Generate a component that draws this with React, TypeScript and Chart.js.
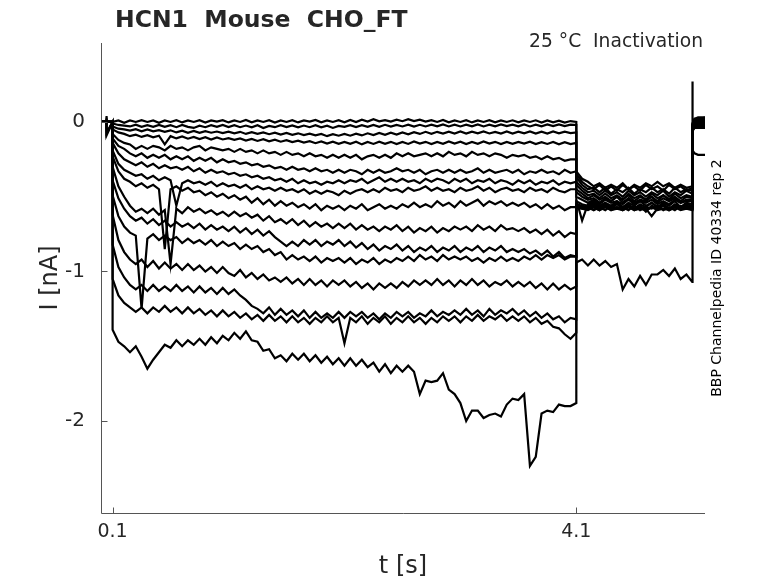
import React, { useEffect, useRef } from "react";
import { Chart, registerables } from "chart.js";

Chart.register(...registerables);

const TITLE = "HCN1  Mouse  CHO_FT";
const CONDITION = "25 °C  Inactivation";
const SIDE_NOTE = "BBP Channelpedia ID 40334 rep 2";
const X_LABEL = "t [s]";
const Y_LABEL = "I [nA]";
const X_TICKS = [0.1, 4.1];
const Y_TICKS = [-2, -1, 0];

const PRE_T = [0, 0.045, 0.046, 0.05, 0.1];
const PULSE_T = [
  0.1, 0.15, 0.2, 0.25, 0.3, 0.35, 0.4, 0.45, 0.5, 0.55,
  0.6, 0.65, 0.7, 0.75, 0.8, 0.85, 0.9, 0.95, 1, 1.05,
  1.1, 1.15, 1.2, 1.25, 1.3, 1.35, 1.4, 1.45, 1.5, 1.55,
  1.6, 1.65, 1.7, 1.75, 1.8, 1.85, 1.9, 1.95, 2, 2.05,
  2.1, 2.15, 2.2, 2.25, 2.3, 2.35, 2.4, 2.45, 2.5, 2.55,
  2.6, 2.65, 2.7, 2.75, 2.8, 2.85, 2.9, 2.95, 3, 3.05,
  3.1, 3.15, 3.2, 3.25, 3.3, 3.35, 3.4, 3.45, 3.5, 3.55,
  3.6, 3.65, 3.7, 3.75, 3.8, 3.85, 3.9, 3.95, 4, 4.05,
  4.1,
];
const TAIL_T = [
  4.1, 4.15, 4.2, 4.25, 4.3, 4.35, 4.4, 4.45, 4.5, 4.55,
  4.6, 4.65, 4.7, 4.75, 4.8, 4.85, 4.9, 4.95, 5, 5.05, 5.1,
];
const POST_T = [5.1, 5.105, 5.12, 5.15, 5.21];

const PRE_I = [
  [0, 0, 0.04, -0.09, 0],
  [0, 0, 0.03, -0.08, 0],
  [0, 0, 0.02, -0.07, 0],
  [0, 0, 0, 0, 0],
  [0, 0, 0, 0, 0],
  [0, 0, 0, 0, 0],
  [0, 0, 0, 0, 0],
  [0, 0, 0, 0, 0],
  [0, 0, 0, 0, 0],
  [0, 0, 0, 0, 0],
  [0, 0, 0, 0, 0],
  [0, 0, 0, 0, 0],
  [0, 0, 0, 0, 0],
  [0, 0, 0, 0, 0],
  [0, 0, 0, 0, 0],
  [0, 0, 0, 0, 0],
];

const PULSE_I = [
  [
    0.0, 0.01, -0.005, 0.01, 0.0, 0.012, 0.0, 0.01, -0.005, 0.01,
    0.0, 0.012, -0.003, 0.01, 0.0, 0.012, -0.004, 0.01, 0.002, 0.012,
    -0.003, 0.01, 0.0, 0.013, -0.002, 0.01, 0.0, 0.012, -0.004, 0.01,
    0.0, 0.012, -0.003, 0.01, 0.002, 0.013, -0.002, 0.01, 0.0, 0.012,
    -0.002, 0.013, 0.0, 0.015, 0.003, 0.018, 0.004, 0.012, 0.002, 0.015,
    0.005, 0.018, 0.006, 0.015, 0.002, 0.012, 0.0, 0.013, -0.002, 0.01,
    0.0, 0.012, -0.003, 0.01, 0.0, 0.012, -0.002, 0.01, 0.0, 0.011,
    -0.003, 0.01, 0.0, 0.011, -0.004, 0.01, -0.002, 0.008, -0.004, 0.006,
    0.0,
  ],
  [
    -0.01, -0.02, -0.025, -0.03, -0.018, -0.033, -0.022, -0.032, -0.02, -0.033,
    -0.022, -0.035, -0.02, -0.033, -0.04, -0.025, -0.035, -0.022, -0.033, -0.02,
    -0.034, -0.022, -0.035, -0.024, -0.036, -0.022, -0.04, -0.026, -0.035, -0.022,
    -0.034, -0.023, -0.036, -0.024, -0.035, -0.022, -0.036, -0.025, -0.04, -0.026,
    -0.033, -0.021, -0.034, -0.022, -0.033, -0.02, -0.032, -0.019, -0.031, -0.02,
    -0.03, -0.018, -0.031, -0.019, -0.03, -0.018, -0.029, -0.017, -0.03, -0.018,
    -0.03, -0.018, -0.029, -0.017, -0.03, -0.018, -0.029, -0.017, -0.028, -0.018,
    -0.029, -0.017, -0.03, -0.018, -0.029, -0.017, -0.028, -0.016, -0.027, -0.018,
    -0.02,
  ],
  [
    -0.03, -0.045, -0.05, -0.058, -0.048, -0.062, -0.05, -0.063, -0.055, -0.066,
    -0.056, -0.07, -0.058, -0.072, -0.06, -0.073, -0.062, -0.072, -0.064, -0.075,
    -0.065, -0.076, -0.066, -0.08, -0.068, -0.079, -0.07, -0.082, -0.072, -0.085,
    -0.074, -0.086, -0.076, -0.088, -0.078, -0.09, -0.08, -0.095, -0.082, -0.092,
    -0.08, -0.092, -0.078, -0.09, -0.076, -0.088, -0.074, -0.086, -0.072, -0.084,
    -0.07, -0.082, -0.068, -0.08, -0.066, -0.079, -0.066, -0.078, -0.065, -0.077,
    -0.064, -0.078, -0.065, -0.076, -0.064, -0.077, -0.066, -0.078, -0.064, -0.077,
    -0.065, -0.076, -0.064, -0.078, -0.065, -0.077, -0.064, -0.076, -0.065, -0.075,
    -0.07,
  ],
  [
    -0.05, -0.07, -0.08, -0.095, -0.085, -0.1, -0.088, -0.103, -0.092, -0.15,
    -0.095, -0.11, -0.097, -0.112, -0.1, -0.114, -0.102, -0.118, -0.104, -0.117,
    -0.108, -0.12, -0.11, -0.124, -0.113, -0.127, -0.115, -0.13, -0.118, -0.132,
    -0.122, -0.135, -0.125, -0.138, -0.128, -0.142, -0.13, -0.145, -0.132, -0.146,
    -0.133, -0.146, -0.132, -0.15, -0.134, -0.147, -0.132, -0.146, -0.133, -0.148,
    -0.134, -0.147, -0.13, -0.145, -0.133, -0.148, -0.134, -0.146, -0.13, -0.145,
    -0.132, -0.148, -0.134, -0.146, -0.13, -0.145, -0.133, -0.148, -0.134, -0.146,
    -0.133, -0.145, -0.132, -0.148, -0.135, -0.147, -0.134, -0.149, -0.135, -0.148,
    -0.14,
  ],
  [
    -0.08, -0.12, -0.14, -0.15, -0.18, -0.16, -0.18, -0.16, -0.17, -0.19,
    -0.16, -0.18, -0.17, -0.19, -0.17, -0.16, -0.19, -0.17, -0.18, -0.19,
    -0.18, -0.2, -0.18, -0.2, -0.19, -0.21, -0.19, -0.21, -0.2, -0.22,
    -0.2, -0.22, -0.21, -0.23, -0.21, -0.23, -0.22, -0.24, -0.22, -0.24,
    -0.22, -0.24, -0.22, -0.25, -0.23, -0.22, -0.24, -0.22, -0.24, -0.21,
    -0.23, -0.21, -0.23, -0.22, -0.21, -0.23, -0.21, -0.23, -0.2, -0.22,
    -0.21, -0.23, -0.2, -0.22, -0.21, -0.23, -0.21, -0.22, -0.24, -0.22,
    -0.23, -0.22, -0.24, -0.23, -0.25, -0.23, -0.25, -0.24, -0.26, -0.25,
    -0.25,
  ],
  [
    -0.11, -0.16, -0.18, -0.21, -0.23, -0.21, -0.24, -0.22, -0.24, -0.22,
    -0.25, -0.23, -0.25, -0.23, -0.26, -0.24, -0.26, -0.24, -0.27, -0.25,
    -0.27, -0.26, -0.28, -0.27, -0.29, -0.28, -0.3, -0.29, -0.31, -0.3,
    -0.32, -0.3, -0.32, -0.31, -0.33, -0.31, -0.33, -0.32, -0.34, -0.32,
    -0.34, -0.32, -0.33, -0.35, -0.32, -0.34, -0.32, -0.34, -0.33, -0.31,
    -0.33, -0.32, -0.34, -0.32, -0.35, -0.33, -0.32, -0.34, -0.32, -0.34,
    -0.32, -0.34, -0.33, -0.31, -0.34, -0.32, -0.34, -0.33, -0.32, -0.34,
    -0.32, -0.35, -0.33, -0.34, -0.32, -0.34, -0.33, -0.35, -0.32, -0.34,
    -0.33,
  ],
  [
    -0.14, -0.21, -0.25, -0.27, -0.29, -0.27, -0.3, -0.28, -0.31, -0.29,
    -0.31, -0.3, -0.32, -0.3, -0.33, -0.31, -0.34, -0.32, -0.34, -0.33,
    -0.35, -0.34, -0.36, -0.35, -0.37, -0.36, -0.38, -0.37, -0.39, -0.38,
    -0.4, -0.38, -0.41, -0.39, -0.41, -0.4, -0.42, -0.4, -0.41, -0.39,
    -0.41, -0.39, -0.4, -0.38, -0.41, -0.39, -0.37, -0.4, -0.38, -0.4,
    -0.38, -0.4, -0.39, -0.41, -0.38, -0.4, -0.38, -0.39, -0.41, -0.38,
    -0.4, -0.38, -0.41, -0.39, -0.4, -0.38, -0.41, -0.39, -0.4, -0.42,
    -0.39, -0.41, -0.39, -0.42, -0.4, -0.41, -0.39, -0.42, -0.4, -0.41,
    -0.4,
  ],
  [
    -0.19, -0.28, -0.32, -0.34, -0.36, -0.35, -0.38, -0.36, -0.39, -0.37,
    -0.39, -0.56, -0.41, -0.39, -0.41, -0.4, -0.42, -0.4, -0.43, -0.41,
    -0.43, -0.42, -0.44, -0.42, -0.45, -0.43, -0.45, -0.44, -0.46, -0.44,
    -0.46, -0.45, -0.47, -0.45, -0.48, -0.46, -0.48, -0.46, -0.47, -0.49,
    -0.46, -0.48, -0.46, -0.45, -0.47, -0.45, -0.47, -0.44, -0.46, -0.45,
    -0.47, -0.44, -0.46, -0.45, -0.43, -0.46, -0.44, -0.46, -0.45, -0.47,
    -0.44, -0.46, -0.45, -0.43, -0.46, -0.44, -0.47, -0.45, -0.44, -0.46,
    -0.45, -0.47, -0.44, -0.46, -0.45, -0.47, -0.44, -0.46, -0.47, -0.45,
    -0.45,
  ],
  [
    -0.23, -0.33, -0.38, -0.4, -0.43, -0.41, -0.44, -0.42, -0.45, -0.85,
    -0.45, -0.43, -0.46, -0.44, -0.47, -0.46, -0.49, -0.47, -0.5, -0.48,
    -0.51, -0.49, -0.52, -0.5, -0.54, -0.51, -0.55, -0.52, -0.56, -0.53,
    -0.56, -0.54, -0.57, -0.55, -0.58, -0.55, -0.59, -0.56, -0.58, -0.56,
    -0.59, -0.56, -0.58, -0.55, -0.59, -0.57, -0.55, -0.58, -0.56, -0.58,
    -0.55, -0.57, -0.54, -0.57, -0.55, -0.57, -0.53, -0.56, -0.54, -0.57,
    -0.53, -0.56, -0.54, -0.52, -0.56, -0.53, -0.55, -0.53, -0.56, -0.54,
    -0.56, -0.54, -0.57, -0.55, -0.58, -0.55, -0.58, -0.56, -0.59, -0.57,
    -0.57,
  ],
  [
    -0.3, -0.43, -0.5, -0.56, -0.6, -0.58, -0.61, -0.58, -0.62, -0.59,
    -0.95, -0.58, -0.61, -0.57, -0.6, -0.58, -0.61, -0.59, -0.62, -0.6,
    -0.63, -0.6, -0.63, -0.61, -0.64, -0.62, -0.66, -0.63, -0.67, -0.65,
    -0.68, -0.65, -0.69, -0.66, -0.7, -0.67, -0.7, -0.68, -0.71, -0.68,
    -0.71, -0.68, -0.72, -0.69, -0.72, -0.7, -0.73, -0.7, -0.72, -0.69,
    -0.73, -0.7, -0.74, -0.71, -0.73, -0.7, -0.74, -0.71, -0.73, -0.7,
    -0.72, -0.7, -0.73, -0.69, -0.72, -0.7, -0.73, -0.69, -0.72, -0.71,
    -0.73, -0.71, -0.74, -0.72, -0.75, -0.72, -0.76, -0.73, -0.77, -0.74,
    -0.75,
  ],
  [
    -0.39, -0.51, -0.58, -0.63, -0.66, -0.64, -0.68, -0.65, -0.69, -0.66,
    -0.7, -0.67, -0.7, -0.68, -0.71, -0.68, -0.72, -0.69, -0.72, -0.7,
    -0.73, -0.7, -0.74, -0.71, -0.75, -0.72, -0.76, -0.73, -0.77, -0.8,
    -0.83, -0.8, -0.83, -0.79, -0.82, -0.79, -0.83, -0.8, -0.82, -0.79,
    -0.83, -0.8, -0.84, -0.81, -0.85, -0.82, -0.86, -0.83, -0.85, -0.82,
    -0.86, -0.83, -0.87, -0.84, -0.86, -0.83, -0.87, -0.84, -0.86, -0.83,
    -0.87, -0.84, -0.86, -0.83, -0.87, -0.84, -0.86, -0.83, -0.87, -0.85,
    -0.87, -0.85, -0.88, -0.86, -0.89, -0.86, -0.9, -0.87, -0.91, -0.89,
    -0.9,
  ],
  [
    -0.49, -0.63, -0.7, -0.74, -0.76, -1.25, -0.78, -0.75, -0.79, -0.76,
    -0.79, -0.77, -0.81, -0.78, -0.81, -0.79, -0.82, -0.79, -0.83, -0.8,
    -0.83, -0.81, -0.85, -0.82, -0.85, -0.83, -0.87, -0.85, -0.89, -0.87,
    -0.92, -0.89, -0.92, -0.9, -0.93, -0.9, -0.94, -0.91, -0.93, -0.91,
    -0.94, -0.91, -0.95, -0.92, -0.94, -0.91, -0.95, -0.92, -0.94, -0.91,
    -0.93, -0.9, -0.93, -0.89, -0.92, -0.9, -0.93, -0.89, -0.92, -0.9,
    -0.92, -0.9, -0.93, -0.91, -0.94, -0.91, -0.93, -0.9, -0.93, -0.91,
    -0.93, -0.9, -0.92, -0.89, -0.92, -0.89, -0.91, -0.89, -0.92, -0.9,
    -0.9,
  ],
  [
    -0.62, -0.79, -0.87, -0.92, -0.95, -0.92, -0.97, -0.93, -0.98, -0.94,
    -0.98, -0.95, -0.99, -0.95, -0.99, -0.96, -1.0, -0.97, -1.01, -0.97,
    -1.01, -1.03, -0.99, -1.04, -1.01, -1.05, -1.02, -1.06, -1.04, -1.07,
    -1.04, -1.08, -1.05, -1.09, -1.05, -1.09, -1.06, -1.1, -1.06, -1.09,
    -1.06, -1.1, -1.07, -1.11, -1.08, -1.12, -1.08, -1.11, -1.08, -1.11,
    -1.07, -1.1, -1.06, -1.09, -1.06, -1.09, -1.05, -1.09, -1.06, -1.1,
    -1.06, -1.09, -1.05, -1.09, -1.06, -1.1, -1.07, -1.09, -1.06, -1.1,
    -1.07, -1.1, -1.07, -1.11, -1.08, -1.12, -1.08, -1.12, -1.09, -1.12,
    -1.1,
  ],
  [
    -0.82, -0.97, -1.04, -1.09, -1.12, -1.09, -1.13, -1.09, -1.13, -1.1,
    -1.13, -1.09, -1.13, -1.1, -1.14, -1.1, -1.14, -1.11, -1.15, -1.11,
    -1.15, -1.12, -1.16, -1.19, -1.23, -1.25, -1.28, -1.24, -1.29, -1.25,
    -1.29, -1.26, -1.3, -1.26, -1.31, -1.27, -1.31, -1.28, -1.31, -1.27,
    -1.31, -1.27, -1.3, -1.27, -1.31, -1.28, -1.32, -1.28, -1.31, -1.27,
    -1.3, -1.27, -1.31, -1.28, -1.3, -1.26, -1.3, -1.27, -1.29, -1.26,
    -1.29, -1.25, -1.29, -1.26, -1.3, -1.25, -1.29, -1.26, -1.28, -1.25,
    -1.29, -1.26, -1.3, -1.27, -1.31, -1.28, -1.32, -1.3, -1.34, -1.31,
    -1.32,
  ],
  [
    -1.05, -1.16, -1.21, -1.24, -1.27, -1.24, -1.28, -1.24, -1.27, -1.23,
    -1.27, -1.24, -1.28, -1.24, -1.28, -1.25, -1.29, -1.26, -1.3, -1.26,
    -1.3, -1.27, -1.31, -1.28, -1.32, -1.29, -1.33, -1.29, -1.33, -1.3,
    -1.34, -1.3, -1.34, -1.31, -1.35, -1.31, -1.34, -1.3, -1.34, -1.31,
    -1.48, -1.31, -1.34, -1.3, -1.35, -1.31, -1.34, -1.3, -1.35, -1.31,
    -1.34, -1.3, -1.34, -1.31, -1.35, -1.31, -1.34, -1.3, -1.33, -1.3,
    -1.34, -1.3, -1.33, -1.29, -1.33, -1.3, -1.32, -1.29, -1.33, -1.3,
    -1.33, -1.3, -1.34, -1.31, -1.35, -1.33, -1.37, -1.38, -1.42, -1.45,
    -1.41,
  ],
  [
    -1.39, -1.47, -1.5, -1.54, -1.5, -1.57, -1.65, -1.59, -1.54, -1.49,
    -1.51, -1.46, -1.5, -1.46, -1.49, -1.45, -1.49, -1.44, -1.48, -1.43,
    -1.46, -1.41, -1.45, -1.4, -1.46, -1.47, -1.53, -1.52, -1.58, -1.56,
    -1.6, -1.55, -1.59, -1.55, -1.6, -1.56, -1.61, -1.57, -1.62, -1.58,
    -1.63, -1.58, -1.63, -1.59, -1.64, -1.61, -1.67, -1.62, -1.68, -1.63,
    -1.67, -1.63, -1.67, -1.82, -1.73, -1.74, -1.73, -1.68, -1.79, -1.82,
    -1.88, -2.0, -1.93, -1.93, -1.98, -1.96, -1.95, -1.97, -1.89, -1.85,
    -1.86, -1.82, -2.3, -2.24, -1.95, -1.93, -1.94, -1.89, -1.9, -1.9,
    -1.88,
  ],
];

const TAIL_I = [
  [-0.33, -0.38, -0.4, -0.43, -0.41, -0.44, -0.42, -0.44, -0.41, -0.45, -0.42, -0.44, -0.41, -0.43, -0.4, -0.43, -0.41, -0.44, -0.42, -0.44, -0.43],
  [-0.35, -0.4, -0.43, -0.45, -0.42, -0.46, -0.43, -0.46, -0.42, -0.45, -0.43, -0.46, -0.42, -0.45, -0.43, -0.46, -0.42, -0.45, -0.43, -0.46, -0.44],
  [-0.37, -0.42, -0.45, -0.44, -0.47, -0.44, -0.48, -0.45, -0.47, -0.44, -0.48, -0.45, -0.47, -0.44, -0.47, -0.45, -0.48, -0.44, -0.47, -0.45, -0.46],
  [-0.4, -0.44, -0.47, -0.46, -0.49, -0.46, -0.49, -0.47, -0.5, -0.46, -0.49, -0.47, -0.5, -0.47, -0.49, -0.46, -0.5, -0.47, -0.49, -0.46, -0.48],
  [-0.42, -0.46, -0.49, -0.48, -0.51, -0.48, -0.51, -0.49, -0.52, -0.48, -0.51, -0.49, -0.52, -0.48, -0.51, -0.49, -0.52, -0.48, -0.51, -0.49, -0.5],
  [-0.45, -0.48, -0.51, -0.49, -0.52, -0.5, -0.53, -0.5, -0.52, -0.49, -0.53, -0.5, -0.52, -0.5, -0.53, -0.49, -0.52, -0.5, -0.53, -0.5, -0.51],
  [-0.47, -0.5, -0.52, -0.51, -0.54, -0.51, -0.53, -0.5, -0.54, -0.51, -0.54, -0.52, -0.53, -0.5, -0.54, -0.51, -0.53, -0.51, -0.54, -0.52, -0.52],
  [-0.5, -0.52, -0.54, -0.52, -0.55, -0.52, -0.54, -0.53, -0.55, -0.52, -0.55, -0.53, -0.54, -0.52, -0.55, -0.53, -0.55, -0.52, -0.54, -0.53, -0.53],
  [-0.52, -0.66, -0.55, -0.53, -0.56, -0.54, -0.56, -0.53, -0.57, -0.54, -0.56, -0.53, -0.56, -0.54, -0.57, -0.54, -0.56, -0.53, -0.57, -0.54, -0.55],
  [-0.53, -0.55, -0.56, -0.54, -0.57, -0.55, -0.57, -0.54, -0.57, -0.55, -0.58, -0.55, -0.57, -0.54, -0.57, -0.55, -0.58, -0.55, -0.57, -0.55, -0.56],
  [-0.55, -0.56, -0.57, -0.55, -0.58, -0.56, -0.58, -0.55, -0.58, -0.56, -0.58, -0.56, -0.6, -0.56, -0.58, -0.55, -0.58, -0.56, -0.58, -0.56, -0.57],
  [-0.56, -0.57, -0.58, -0.56, -0.58, -0.56, -0.59, -0.57, -0.58, -0.56, -0.59, -0.57, -0.58, -0.63, -0.58, -0.56, -0.59, -0.57, -0.58, -0.56, -0.58],
  [-0.57, -0.58, -0.57, -0.59, -0.57, -0.59, -0.56, -0.58, -0.57, -0.59, -0.56, -0.59, -0.57, -0.58, -0.56, -0.59, -0.57, -0.59, -0.56, -0.58, -0.58],
  [-0.58, -0.56, -0.58, -0.57, -0.59, -0.56, -0.58, -0.57, -0.59, -0.57, -0.58, -0.56, -0.59, -0.57, -0.58, -0.56, -0.59, -0.57, -0.58, -0.57, -0.58],
  [-0.57, -0.58, -0.59, -0.57, -0.59, -0.57, -0.59, -0.58, -0.59, -0.57, -0.59, -0.58, -0.59, -0.57, -0.59, -0.58, -0.59, -0.57, -0.59, -0.58, -0.59],
  [-0.94, -0.92, -0.96, -0.92, -0.96, -0.93, -0.97, -0.95, -1.12, -1.05, -1.1, -1.03, -1.09, -1.02, -1.02, -0.99, -1.03, -0.98, -1.05, -1.02, -1.07],
];

const POST_I = [
  [-0.03, -0.01, 0.02, 0.03, 0.03],
  [-0.03, -0.01, 0.02, 0.02, 0.03],
  [-0.04, -0.02, 0.01, 0.02, 0.02],
  [-0.04, -0.02, 0.01, 0.02, 0.01],
  [-0.04, -0.02, 0.0, 0.01, 0.01],
  [-0.05, -0.03, 0.0, 0.01, 0.0],
  [-0.05, -0.03, 0.0, 0.0, 0.0],
  [-0.05, -0.03, -0.01, 0.0, -0.01],
  [-0.06, -0.04, -0.01, -0.01, -0.01],
  [-0.06, -0.04, -0.02, -0.01, -0.02],
  [-0.06, -0.04, -0.02, -0.02, -0.02],
  [-0.07, -0.05, -0.02, -0.02, -0.03],
  [-0.07, -0.05, -0.03, -0.03, -0.03],
  [-0.08, -0.06, -0.03, -0.03, -0.04],
  [-0.08, -0.06, -0.04, -0.04, -0.04],
  [0.27, -0.19, -0.21, -0.22, -0.22],
];

const TEXT_COLOR = "#262626";
const AXIS_COLOR = "#555555";
const FONT = '"DejaVu Sans", "Liberation Sans", sans-serif';

function buildTrace(k: number) {
  const pts: { x: number; y: number }[] = [];
  PRE_T.forEach((t, i) => pts.push({ x: t, y: PRE_I[k][i] }));
  PULSE_T.forEach((t, i) => pts.push({ x: t, y: PULSE_I[k][i] }));
  TAIL_T.forEach((t, i) => pts.push({ x: t, y: TAIL_I[k][i] }));
  POST_T.forEach((t, i) => pts.push({ x: t, y: POST_I[k][i] }));
  return pts;
}

const overlayPlugin = {
  id: "overlay",
  afterDraw(chart: any) {
    const { ctx, chartArea, scales } = chart;
    ctx.save();
    ctx.strokeStyle = AXIS_COLOR;
    ctx.lineWidth = 1;
    const left = Math.round(chartArea.left) + 0.5;
    const bottom = Math.round(chartArea.bottom) + 0.5;
    ctx.beginPath();
    ctx.moveTo(left, Math.round(chartArea.top));
    ctx.lineTo(left, bottom);
    ctx.lineTo(Math.round(chartArea.right), bottom);
    ctx.stroke();
    Y_TICKS.forEach((v) => {
      const y = Math.round(scales.y.getPixelForValue(v)) + 0.5;
      ctx.beginPath();
      ctx.moveTo(left, y);
      ctx.lineTo(left + 6, y);
      ctx.stroke();
    });
    X_TICKS.forEach((v) => {
      const x = Math.round(scales.x.getPixelForValue(v)) + 0.5;
      ctx.beginPath();
      ctx.moveTo(x, bottom);
      ctx.lineTo(x, bottom - 6);
      ctx.stroke();
    });
    ctx.fillStyle = TEXT_COLOR;
    ctx.font = `bold 23.5px ${FONT}`;
    ctx.textAlign = "left";
    ctx.textBaseline = "alphabetic";
    ctx.fillText(TITLE, 115, 27);
    ctx.font = `18.7px ${FONT}`;
    ctx.textAlign = "right";
    ctx.fillText(CONDITION, 703, 47);
    ctx.translate(721, 278);
    ctx.rotate(-Math.PI / 2);
    ctx.font = `14px ${FONT}`;
    ctx.textAlign = "center";
    ctx.fillStyle = "#000000";
    ctx.fillText(SIDE_NOTE, 0, 0);
    ctx.restore();
  },
};

export default function App() {
  const ref = useRef<HTMLCanvasElement | null>(null);
  useEffect(() => {
    if (!ref.current) return;
    const datasets = PULSE_I.map((_, k) => ({
      data: buildTrace(k),
      showLine: true,
      borderColor: "#000000",
      borderWidth: 2.2,
      pointRadius: 0,
      fill: false,
      tension: 0,
    }));
    const chart = new Chart(ref.current, {
      type: "scatter",
      data: { datasets },
      options: {
        animation: false,
        responsive: false,
        events: [],
        layout: { padding: { left: 0, right: 73, top: 43, bottom: 0 } },
        plugins: {
          legend: { display: false },
          tooltip: { enabled: false },
          title: { display: false },
        },
        scales: {
          x: {
            type: "linear",
            min: 0,
            max: 5.21,
            afterBuildTicks: (s: any) => {
              s.ticks = X_TICKS.map((v) => ({ value: v }));
            },
            afterFit: (s: any) => {
              s.height = 70;
            },
            grid: { display: false, drawTicks: false },
            border: { display: false },
            ticks: {
              color: TEXT_COLOR,
              font: { family: FONT, size: 19 },
              padding: 8,
              maxRotation: 0,
              callback: (v: any) => Number(v).toFixed(1),
            },
            title: {
              display: true,
              text: X_LABEL,
              color: TEXT_COLOR,
              font: { family: FONT, size: 24 },
              padding: { top: 0, bottom: 2 },
            },
          },
          y: {
            type: "linear",
            min: -2.615,
            max: 0.528,
            afterBuildTicks: (s: any) => {
              s.ticks = Y_TICKS.map((v) => ({ value: v }));
            },
            afterFit: (s: any) => {
              s.width = 101;
            },
            grid: { display: false, drawTicks: false },
            border: { display: false },
            ticks: {
              color: TEXT_COLOR,
              font: { family: FONT, size: 20 },
              padding: 16,
              callback: (v: any) => String(v),
            },
            title: {
              display: true,
              text: Y_LABEL,
              color: TEXT_COLOR,
              font: { family: FONT, size: 24 },
              padding: { top: 36, bottom: 0 },
            },
          },
        },
      },
      plugins: [overlayPlugin],
    } as any);
    return () => chart.destroy();
  }, []);
  return (
    <div style={{ position: "absolute", left: 0, top: 0, width: 778, height: 583, background: "#ffffff" }}>
      <canvas ref={ref} width={778} height={583} style={{ display: "block", width: 778, height: 583 }} />
    </div>
  );
}
